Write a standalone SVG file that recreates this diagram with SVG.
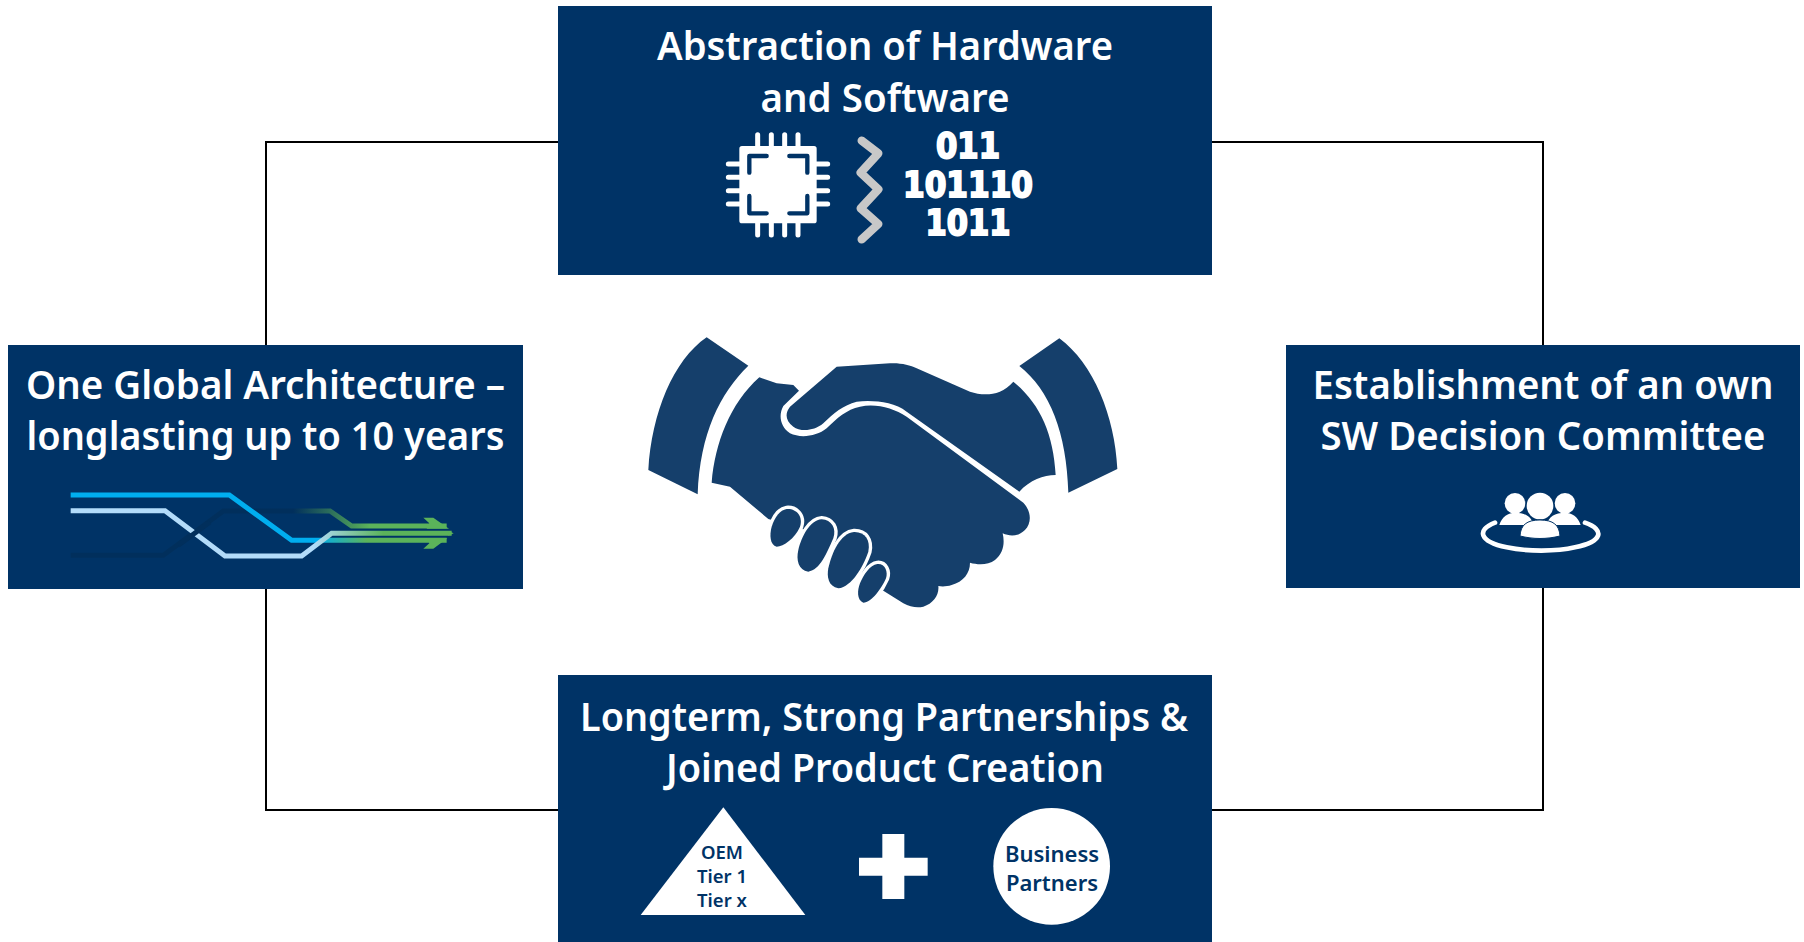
<svg xmlns="http://www.w3.org/2000/svg" width="1804" height="942" viewBox="0 0 1804 942">
<style>
.box{fill:#003366}
.t{font-family:"Noto Sans","Liberation Sans",sans-serif;font-weight:600;font-size:39.5px;fill:#fff;text-anchor:middle}
.d{font-family:"Noto Sans","Liberation Sans",sans-serif;font-weight:600;fill:#003366;text-anchor:middle}
.b{font-family:"DejaVu Sans",sans-serif;font-weight:700;font-size:35px;fill:#fff;stroke:#fff;stroke-width:2;text-anchor:middle}
.hand{fill:#153f6b}
.finger{fill:#153f6b;stroke:#fff;stroke-width:20;paint-order:stroke}
</style>
<defs>
<linearGradient id="gc" gradientUnits="userSpaceOnUse" x1="800" y1="0" x2="950" y2="0"><stop offset="0" stop-color="#00aeef"/><stop offset="1" stop-color="#5bb35a"/></linearGradient>
<linearGradient id="gl" gradientUnits="userSpaceOnUse" x1="790" y1="0" x2="1000" y2="0"><stop offset="0" stop-color="#b3dcfa"/><stop offset="1" stop-color="#5bb35a"/></linearGradient>
<linearGradient id="gd" gradientUnits="userSpaceOnUse" x1="730" y1="0" x2="960" y2="0"><stop offset="0" stop-color="#012f5c"/><stop offset="1" stop-color="#5bb35a"/></linearGradient>
</defs>
<g id="connectors"><rect x="266" y="142" width="1277" height="668" fill="none" stroke="#000" stroke-width="2"/></g>
<g id="handshake" transform="translate(630 320) scale(.33333)">
<path class="hand" d="M230,52L355,137C270,220 210,340 203,523L55,450C65,280 130,120 230,52Z"/>
<path class="hand" d="M1288,55L1168,138C1260,210 1310,340 1315,518L1462,447C1455,290 1390,130 1288,55Z"/>
<path class="hand" d="M388,172L440,190L490,195L507,212L460,258C445,285 450,320 480,340C510,355 560,350 590,325C620,295 650,268 690,260C740,250 790,265 830,290L1180,548C1205,575 1205,610 1185,630C1165,650 1140,650 1118,640C1125,670 1120,700 1095,720C1075,735 1045,735 1020,728C1020,760 1000,785 965,795C950,800 935,800 925,798C928,825 910,850 880,860C860,865 840,860 820,850L760,812L560,640L415,597L300,500L245,488C255,370 300,250 388,172Z"/>
<path class="hand" d="M620,140L780,130C810,128 840,135 860,145L1020,215C1060,228 1110,230 1150,185C1230,250 1270,340 1277,465C1240,465 1200,480 1168,515L830,275C790,245 730,240 680,245C640,255 610,280 580,310C550,335 510,335 490,320C465,300 465,280 480,260Z"/>
<path class="finger" d="M470,567C500,565 520,590 510,620C495,655 460,680 440,680C420,675 418,645 425,620C435,590 450,570 470,567Z"/>
<path class="finger" d="M575,598C605,600 620,625 610,655C590,700 570,750 535,755C505,750 498,720 505,690C515,650 540,600 575,598Z"/>
<path class="finger" d="M672,636C705,635 722,660 715,695C700,740 665,800 625,805C595,800 590,770 595,745C605,700 630,640 672,636Z"/>
<path class="finger" d="M742,732C765,730 775,755 768,775C755,805 725,848 700,848C680,840 682,810 690,790C700,765 720,735 742,732Z"/>
</g>
<g id="node-top">
<rect class="box" x="558" y="6" width="654" height="269"/>
<text class="t" x="885" y="60" textLength="456" lengthAdjust="spacingAndGlyphs">Abstraction of Hardware</text>
<text class="t" x="885" y="112" textLength="249" lengthAdjust="spacingAndGlyphs">and Software</text>
<g transform="translate(700 120) scale(.33333)">
<g stroke="#fff" stroke-width="15" stroke-linecap="round" fill="none"><path d="M173,44V345M214,44V345M254,44V345M294,44V345M85,132H383M85,172H383M85,212H383M85,252H383"/></g>
<rect x="118" y="78" width="232" height="232" rx="8" fill="#fff"/>
<path d="M200,108H148V158M268,108H322V158M148,228V280H200M322,228V280H268" fill="none" stroke="#003366" stroke-width="13" stroke-linecap="round" stroke-linejoin="round"/>
<path d="M485,62L535,100L482,158L535,208L482,265L535,312L485,358" fill="none" stroke="#c8c8c8" stroke-width="25" stroke-linecap="round" stroke-linejoin="round"/>
</g>
<text class="b" x="968" y="158" textLength="64" lengthAdjust="spacingAndGlyphs">011</text>
<text class="b" x="968" y="197" textLength="130" lengthAdjust="spacingAndGlyphs">101110</text>
<text class="b" x="968" y="235" textLength="85" lengthAdjust="spacingAndGlyphs">1011</text>
</g>
<g id="node-left">
<rect class="box" x="8" y="345" width="515" height="244"/>
<text class="t" x="265.5" y="399" textLength="479" lengthAdjust="spacingAndGlyphs">One Global Architecture –</text>
<text class="t" x="265.5" y="450" textLength="478" lengthAdjust="spacingAndGlyphs">longlasting up to 10 years</text>
<g transform="translate(50 470) scale(.33333)" fill="none" stroke-width="15">
<path d="M62,256H340L520,123H840L905,168H1190" stroke="url(#gd)"/>
<path d="M62,75H538L725,211H1190" stroke="url(#gc)"/>
<path d="M62,122H345L525,258H755L845,190H1205" stroke="url(#gl)"/>
<path d="M385,226L480,156" stroke="#012f5c"/>
<path d="M1120,143H1150L1197,176H1130L1138,160ZM1120,236H1150L1192,205H1130L1138,220ZM1195,183L1211,190L1195,197Z" fill="#5bb35a" stroke="none"/>
</g>
</g>
<g id="node-right">
<rect class="box" x="1286" y="345" width="514" height="243"/>
<text class="t" x="1543" y="399" textLength="461" lengthAdjust="spacingAndGlyphs">Establishment of an own</text>
<text class="t" x="1543" y="450" textLength="445" lengthAdjust="spacingAndGlyphs">SW Decision Committee</text>
<g transform="translate(1450 470) scale(.33333)">
<path d="M135,158C78,180 88,215 170,232C230,245 320,245 375,232C457,215 467,180 405,158" fill="none" stroke="#fff" stroke-width="14" stroke-linecap="round"/>
<circle cx="195" cy="100" r="31" fill="#fff"/><circle cx="345" cy="100" r="31" fill="#fff"/>
<path d="M148,165C155,140 175,128 195,128C225,128 245,140 250,165ZM392,165C385,140 365,128 345,128C315,128 295,140 290,165Z" fill="#fff"/>
<circle cx="270" cy="108" r="44" fill="#003366"/><circle cx="270" cy="108" r="40" fill="#fff"/>
<path d="M210,198C212,165 230,150 270,150C310,150 328,165 330,198C290,208 250,208 210,198Z" fill="#fff" stroke="#003366" stroke-width="3"/>
</g>
</g>
<g id="node-bottom">
<rect class="box" x="558" y="675" width="654" height="267"/>
<text class="t" x="884" y="731" textLength="608" lengthAdjust="spacingAndGlyphs">Longterm, Strong Partnerships &amp;</text>
<text class="t" x="885" y="782" textLength="438" lengthAdjust="spacingAndGlyphs">Joined Product Creation</text>
<g transform="translate(620 790) scale(.33333)" fill="#fff">
<path d="M310,52L556,375H62Z"/>
<path d="M787,132H853V203H923V257H853V327H787V257H717V203H787Z"/>
<circle cx="1295" cy="229" r="175"/>
</g>
<g class="d" font-size="18.5"><text x="722" y="859">OEM</text><text x="722" y="883">Tier 1</text><text x="722" y="907">Tier x</text></g>
<g class="d" font-size="22"><text x="1052" y="862">Business</text><text x="1052" y="891">Partners</text></g>
</g>
</svg>
